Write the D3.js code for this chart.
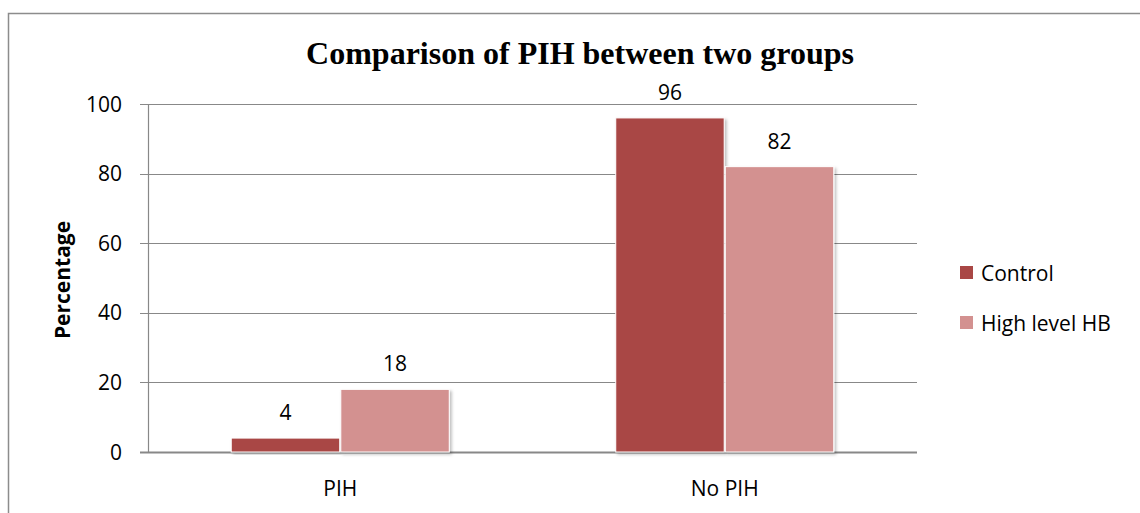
<!DOCTYPE html>
<html>
<head>
<meta charset="utf-8">
<script src="https://cdn.jsdelivr.net/npm/d3@7"></script>
<style>
  html, body { margin: 0; padding: 0; background: #fff; }
  svg { display: block; }
</style>
</head>
<body>
<div id="chart"></div>
<script>
// chart data
const categories = ['PIH', 'No PIH'];
const seriesNames = ['Control', 'High level HB'];
const controlValues = [4, 96];
const highHbValues = [18, 82];
const yTicks = [0, 20, 40, 60, 80, 100];
const colors = ['#A94745', '#D39190'];

const width = 1140;
const height = 513;
const margin = { top: 104, right: 223, bottom: 61, left: 148 };

const svg = d3.select('#chart').append('svg')
    .attr('width', width)
    .attr('height', height);

// outer frame (only top and left visible in picture)
svg.append('path')
    .attr('d', 'M8.5,' + height + ' V13.5 H' + width)
    .attr('fill', 'none')
    .attr('stroke', '#8c8c8c')
    .attr('stroke-width', 1.5);

const defs = svg.append('defs');
const shadow = defs.append('filter').attr('id', 'shadow')
    .attr('x', '-10%').attr('y', '-10%').attr('width', '130%').attr('height', '130%');
shadow.append('feDropShadow')
    .attr('dx', 2).attr('dy', 2).attr('stdDeviation', 1.5)
    .attr('flood-color', '#000').attr('flood-opacity', 0.25);

const plotW = width - margin.left - margin.right;
const plotH = height - margin.top - margin.bottom;

const y = d3.scaleLinear().domain([0, 100]).range([plotH, 0]);
const x0 = d3.scaleBand().domain(categories).range([0, plotW])
    .paddingInner(0.433).paddingOuter(0.2165);
const x1 = d3.scaleBand().domain(seriesNames).range([0, x0.bandwidth()]).paddingInner(0.01);

const g = svg.append('g').attr('transform', `translate(${margin.left},${margin.top})`);

// grid lines + ticks
g.selectAll('.grid').data(yTicks).enter().append('line')
    .attr('x1', -8).attr('x2', plotW)
    .attr('y1', d => Math.round(y(d)) + 0.5)
    .attr('y2', d => Math.round(y(d)) + 0.5)
    .attr('stroke', '#888')
    .attr('stroke-width', d => d === 0 ? 2 : 1.2);

g.append('line')
    .attr('x1', 0.5).attr('x2', 0.5)
    .attr('y1', 0).attr('y2', plotH)
    .attr('stroke', '#888').attr('stroke-width', 1.2);

// y tick labels
g.selectAll('.ytick').data(yTicks).enter().append('text')
    .attr('x', -26)
    .attr('y', d => y(d))
    .attr('dy', '0.36em')
    .attr('text-anchor', 'end')
    .style('font-family', 'Open Sans, sans-serif')
    .style('font-size', '21px')
    .text(d => d);

// bars
const rows = categories.map((c, i) => ({
    cat: c,
    vals: [controlValues[i], highHbValues[i]]
}));

const groups = g.selectAll('.grp').data(rows).enter().append('g')
    .attr('transform', d => `translate(${x0(d.cat)},0)`);

groups.selectAll('rect')
    .data(d => d.vals.map((v, i) => ({ name: seriesNames[i], v: v, i: i })))
    .enter().append('rect')
    .attr('x', d => x1(d.name))
    .attr('y', d => y(d.v))
    .attr('width', x1.bandwidth())
    .attr('height', d => plotH - y(d.v))
    .attr('fill', d => colors[d.i])
    .attr('stroke', '#fff')
    .attr('stroke-width', 1)
    .attr('filter', 'url(#shadow)');

groups.selectAll('.val')
    .data(d => d.vals.map((v, i) => ({ name: seriesNames[i], v: v })))
    .enter().append('text')
    .attr('x', d => x1(d.name) + x1.bandwidth() / 2)
    .attr('y', d => y(d.v) - 18)
    .attr('text-anchor', 'middle')
    .style('font-family', 'Open Sans, sans-serif')
    .style('font-size', '21px')
    .text(d => d.v);

// category labels
g.selectAll('.cat').data(categories).enter().append('text')
    .attr('x', d => x0(d) + x0.bandwidth() / 2)
    .attr('y', plotH + 44)
    .attr('text-anchor', 'middle')
    .style('font-family', 'Open Sans, sans-serif')
    .style('font-size', '21px')
    .text(d => d);

// y axis title
svg.append('text')
    .attr('transform', 'translate(70,280) rotate(-90)')
    .attr('text-anchor', 'middle')
    .style('font-family', 'Open Sans, sans-serif')
    .style('font-weight', 'bold')
    .style('font-size', '21px')
    .text('Percentage');

// chart title
svg.append('text')
    .attr('x', 580)
    .attr('y', 64)
    .attr('text-anchor', 'middle')
    .style('font-family', 'Liberation Serif, serif')
    .style('font-weight', 'bold')
    .style('font-size', '32px')
    .text('Comparison of PIH between two groups');

// legend
const legend = svg.selectAll('.legend').data(seriesNames).enter().append('g')
    .attr('transform', (d, i) => `translate(960,${266 + i * 50})`);

legend.append('rect')
    .attr('width', 13).attr('height', 13)
    .attr('fill', (d, i) => colors[i]);

legend.append('text')
    .attr('x', 21)
    .attr('y', 7)
    .attr('dy', '0.36em')
    .style('font-family', 'Open Sans, sans-serif')
    .style('font-size', '21px')
    .text(d => d);
</script>
</body>
</html>
